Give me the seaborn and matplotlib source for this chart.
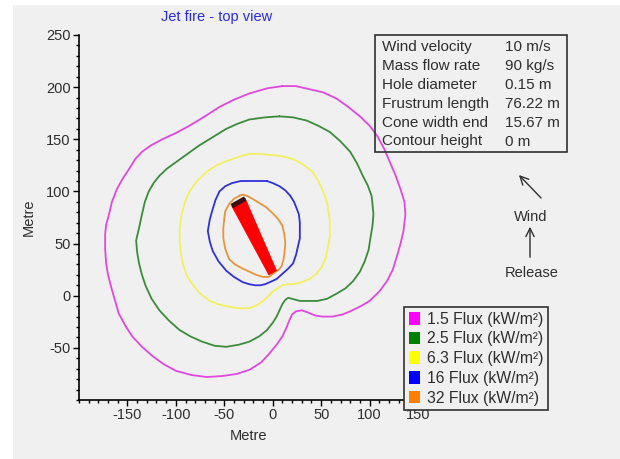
import numpy as np
import pandas as pd
import matplotlib
matplotlib.use("Agg")
import matplotlib.pyplot as plt
from matplotlib.patches import Patch, Rectangle, Polygon
from matplotlib.ticker import MultipleLocator
import seaborn as sns

# ---- data -------------------------------------------------------------
levels = ["1.5 Flux (kW/m²)", "2.5 Flux (kW/m²)", "6.3 Flux (kW/m²)",
          "16 Flux (kW/m²)", "32 Flux (kW/m²)"]
line_colors = ["#e048e0", "#3a8c3a", "#f2f060", "#3030d8", "#e8953c"]
legend_colors = ["#ff00ff", "#008000", "#ffff00", "#0000ff", "#ff8000"]

flux_1_5_x = [10, -5, -24, -40, -55, -70, -86, -100, -114, -126, -135, -142, -148,
              -155, -161, -166, -169, -172, -173, -173, -172, -170, -167, -163,
              -159, -152, -145, -135, -124, -112, -100, -84, -68, -52, -37, -24,
              -12, -3, 4, 10, 14, 17, 20, 24, 30, 36, 44, 51, 62, 72, 80, 91, 100,
              110, 118, 124, 128, 132, 135, 137, 136, 132, 127, 121, 115, 108, 100,
              90, 78, 66, 52, 38, 24, 10]
flux_1_5_y = [201, 199, 194, 188, 181, 172, 163, 156, 150, 144, 138, 131, 122,
              112, 102, 90, 78, 68, 59, 45, 31, 20, 9, -4,
              -17, -29, -39, -49, -58, -66, -72, -76, -78, -77, -75, -71,
              -64, -55, -47, -39, -31, -24, -18, -15, -14, -16, -19, -20, -20, -18,
              -15, -10, -5, 4, 14, 25, 37, 50, 62, 78, 90, 102, 115, 128, 141, 153,
              163, 172, 181, 189, 195, 198, 201, 201]

flux_2_5_x = [7, -8, -24, -36, -48, -62, -76, -88, -100, -109, -117, -123, -128,
              -132, -135, -138, -141, -140, -138, -135, -131, -125, -117, -107, -96,
              -85, -73, -60, -48, -35, -24, -14, -6, 0, 4, 7, 10, 13, 16, 20, 28,
              37, 46, 56, 66, 75, 83, 90, 95, 99, 101, 103, 104, 103, 102, 98, 93,
              87, 80, 70, 59, 47, 35, 21, 7]
flux_2_5_y = [172, 171, 169, 165, 160, 152, 144, 136, 128, 122, 115, 108, 100,
              90, 78, 65, 53, 42, 31, 20, 9, -3, -14, -24, -33,
              -39, -44, -48, -49, -47, -44, -39, -33, -26, -20, -14, -8, -4, -2, -3,
              -5, -5, -5, -3, 2, 7, 14, 23, 33, 44, 56, 67, 78, 88, 96, 106, 115,
              127, 138, 148, 157, 163, 168, 171, 172]

flux_6_3_x = [-3, -14, -24, -36, -48, -58, -68, -78, -86, -91, -94, -96, -96, -95,
              -93, -89, -83, -75, -65, -57, -48, -36, -24, -16, -10, -4, 0, 5, 10,
              15, 21, 30, 38, 45, 51, 55, 57, 59, 59, 59, 58, 56, 52, 47, 41, 31,
              21, 9, -3]
flux_6_3_y = [135, 136, 136, 133, 129, 125, 119, 110, 100, 89, 78, 65, 53, 42,
              31, 20, 11, 2, -5, -8, -10, -12, -12, -9, -5, 0, 4, 7, 10,
              11, 11, 13, 16, 21, 28, 37, 47, 57, 66, 72, 78, 90, 100, 110, 119, 126,
              131, 134, 135]

flux_16_x = [-6, -15, -24, -33, -42, -49, -55, -59, -62, -65, -67, -65, -62, -56,
             -48, -40, -31, -24, -18, -13, -8, -3, 4, 10, 16, 21, 24, 26, 28, 28,
             28, 27, 25, 22, 18, 13, 7, 0, -6]
flux_16_y = [110, 110, 110, 110, 108, 105, 100, 92, 83, 73, 62, 52, 43, 33,
             24, 18, 13, 11, 10, 10, 11, 13, 16, 21, 26, 31, 39, 47, 55, 62,
             70, 78, 83, 90, 96, 101, 105, 108, 110]

flux_32_x = [-34, -40, -45, -49, -50, -51, -51, -49, -45, -39, -31, -24, -17, -10,
             -4, 0, 5, 9, 11, 12, 13, 12, 10, 6, 0, -7, -14, -21, -27, -31, -34]
flux_32_y = [96, 93, 88, 81, 74, 65, 55, 45, 35, 30, 26, 23, 20, 18,
             18, 21, 24, 28, 34, 40, 50, 59, 67, 73, 79, 85, 89, 93, 96, 97, 96]

# jet flame (frustum) parameters
release_point = (0.0, 22.0)
flame_angle_deg = 117.6
frustum_length = 76.22
cone_width_end = 15.67
cone_width_start = 9.0

info_labels = ["Wind velocity", "Mass flow rate", "Hole diameter",
               "Frustrum length", "Cone width end", "Contour height"]
info_values = ["10 m/s", "90 kg/s", "0.15 m", "76.22 m", "15.67 m", "0 m"]

# ---- figure -----------------------------------------------------------
sns.set_style("ticks")
plt.rcParams["font.family"] = ["Liberation Sans", "DejaVu Sans"]
plt.rcParams["axes.unicode_minus"] = False

W, H = 620, 459
fig = plt.figure(figsize=(W / 100, H / 100), dpi=100)
fig.patch.set_facecolor("white")
TXT = "#2e2e2e"


def fx(px):
    return px / W


def fy(py):
    return 1 - py / H


# grey panel behind everything
fig.add_artist(Rectangle((fx(13), 0), 1 - fx(13), fy(5), transform=fig.transFigure,
                         facecolor="#f0f0f0", edgecolor="none", zorder=-10))

ax = fig.add_axes([fx(79), fy(400), fx(418) - fx(79), fy(35) - fy(400)])
ax.set_facecolor("none")

frames = []
for name, xs, ys in zip(levels,
                        [flux_1_5_x, flux_2_5_x, flux_6_3_x, flux_16_x, flux_32_x],
                        [flux_1_5_y, flux_2_5_y, flux_6_3_y, flux_16_y, flux_32_y]):
    frames.append(pd.DataFrame({"x": xs, "y": ys, "level": name}))
df = pd.concat(frames, ignore_index=True)

sns.lineplot(data=df, x="x", y="y", hue="level", hue_order=levels,
             palette=line_colors, sort=False, estimator=None, units="level",
             linewidth=1.3, legend=False, ax=ax)

# flame frustum drawn from its length and end width
th = np.deg2rad(flame_angle_deg)
d = np.array([np.cos(th), np.sin(th)])
n = np.array([np.sin(th), -np.cos(th)])
p0 = np.array(release_point)
p1 = p0 + frustum_length * d
corners = [p0 + n * cone_width_start / 2, p1 + n * cone_width_end / 2,
           p1 - n * cone_width_end / 2, p0 - n * cone_width_start / 2]
ax.add_patch(Polygon(corners, closed=True, facecolor="#ff0000",
                     edgecolor="#ff0000", lw=0.5, zorder=5))
cap = [p1 + n * cone_width_end / 2, p1 - n * cone_width_end / 2]
ax.plot([cap[0][0], cap[1][0]], [cap[0][1], cap[1][1]], color="#3a1010",
        lw=3.5, solid_capstyle="butt", zorder=6)

ax.set_xlim(-200, 150)
ax.set_ylim(-100, 250)
ax.set_xticks([-150, -100, -50, 0, 50, 100, 150])
ax.set_yticks([-50, 0, 50, 100, 150, 200, 250])
ax.xaxis.set_minor_locator(MultipleLocator(10))
ax.yaxis.set_minor_locator(MultipleLocator(10))
ax.tick_params(which="major", direction="out", length=4, width=1, color="black",
               labelsize=10.5, labelcolor=TXT, pad=2)
ax.tick_params(which="minor", direction="out", length=2, width=1, color="black")
for side in ["top", "right"]:
    ax.spines[side].set_visible(False)
for side in ["left", "bottom"]:
    ax.spines[side].set_color("black")
    ax.spines[side].set_linewidth(1.2)
ax.set_xlabel("Metre", fontsize=10.5, color=TXT)
ax.set_ylabel("Metre", fontsize=10.5, color=TXT)
ax.xaxis.set_label_coords(0.5, (400 - 429) / 365)
ax.yaxis.set_label_coords((36 - 79) / 339, 0.5)

fig.text(fx(217), fy(17), "Jet fire - top view", color="#2a2ae0", fontsize=10.5,
         ha="center", va="center")

# parameter box
fig.add_artist(Rectangle((fx(375), fy(152)), fx(567) - fx(375), fy(35) - fy(152),
                         transform=fig.transFigure, fill=False,
                         edgecolor="#303030", lw=1.2))
for i, (lab, val) in enumerate(zip(info_labels, info_values)):
    yy = fy(47 + 18.9 * i)
    fig.text(fx(382), yy, lab, fontsize=11, color=TXT, va="center")
    fig.text(fx(505), yy, val, fontsize=11, color=TXT, va="center")

# wind / release direction markers
arrow_kw = dict(arrowstyle="->,head_length=0.6,head_width=0.3", color="#303030", lw=1)
fig.add_artist(plt.Annotation("", xy=(fx(517), fy(173)), xytext=(fx(543), fy(200)),
                              xycoords="figure fraction", textcoords="figure fraction",
                              arrowprops=arrow_kw))
fig.text(fx(531), fy(217), "Wind", fontsize=10.5, color=TXT,
         ha="center", va="center")
fig.add_artist(plt.Annotation("", xy=(fx(530), fy(224)), xytext=(fx(530), fy(260)),
                              xycoords="figure fraction", textcoords="figure fraction",
                              arrowprops=arrow_kw))
fig.text(fx(532), fy(273), "Release", fontsize=10.5, color=TXT,
         ha="center", va="center")

handles = [Patch(facecolor=c, edgecolor="none", label=l)
           for c, l in zip(legend_colors, levels)]
leg = ax.legend(handles=handles, loc="upper left",
                bbox_to_anchor=(fx(404), fy(307)), bbox_transform=fig.transFigure,
                frameon=True, fancybox=False, framealpha=1, facecolor="#f0f0f0",
                edgecolor="#303030", fontsize=11.3, handlelength=0.75,
                handleheight=0.85, handletextpad=0.4, labelspacing=0.3,
                borderpad=0.3, borderaxespad=0)
leg.get_frame().set_linewidth(1.2)
for t in leg.get_texts():
    t.set_color(TXT)
leg.set_zorder(10)

fig.savefig("out.png", dpi=100)
